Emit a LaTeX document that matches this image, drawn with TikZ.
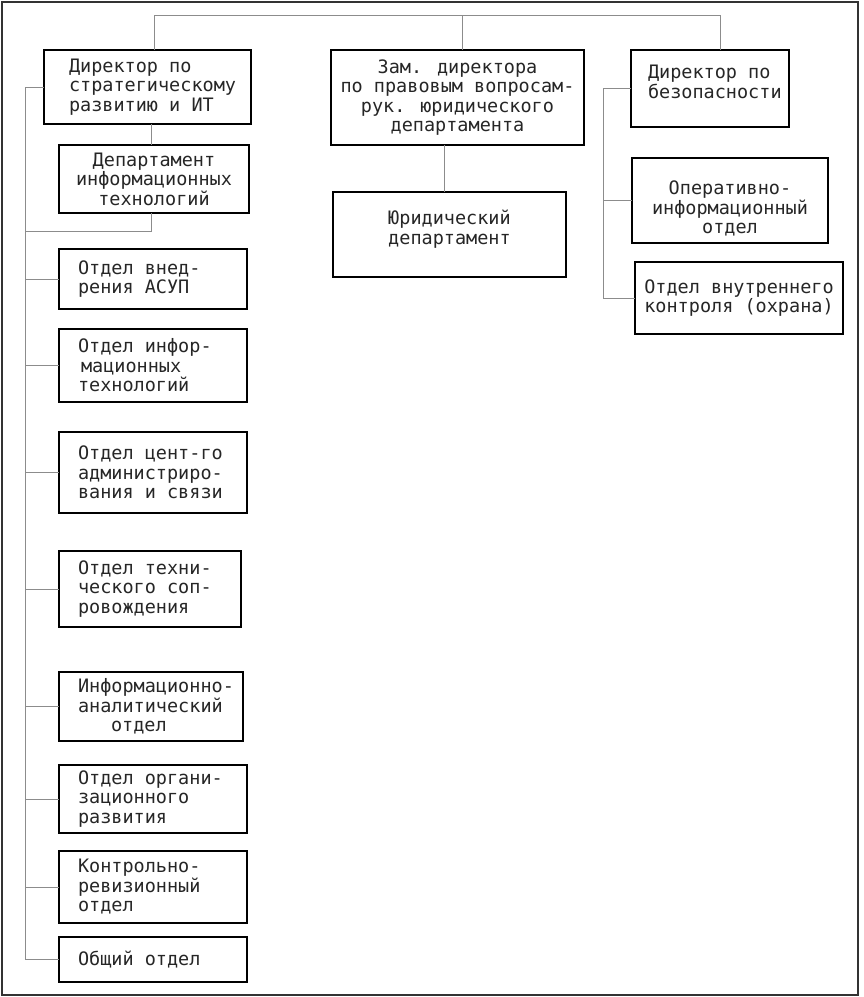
\documentclass[tikz,border=0pt]{standalone}
\usepackage{fontspec}
\newfontfamily\gost{DejaVu Sans Mono}
\hyphenpenalty=10000
\exhyphenpenalty=10000
\begin{document}
\begin{tikzpicture}[x=1pt,y=-1pt,
  box/.style={draw=black, line width=1.5pt, inner sep=0pt, outer sep=0pt,
    font=\gost\fontsize{18.5}{19.5}\selectfont, text=black!85},
  lbox/.style={box, align=flush left, inner xsep=19pt, text width=#1},
  conn/.style={draw=black!45, line width=0.9pt},
  frame/.style={draw=black!80, line width=2pt}]
\useasboundingbox (0,0) rectangle (864,997);
\draw[frame] (2,2) rectangle (858,995);

% left branch
\node[box, align=flush left, inner xsep=25pt, text width=157pt, minimum width=207pt, minimum height=74pt] (dsr) at (147.5,87) {Директор по\\стратегическому\\развитию и ИТ};
\node[box, align=center, minimum width=190pt, minimum height=68pt] (dit) at (154,179) {Департамент\\информационных\\технологий};
\node[lbox=150pt, minimum width=188pt, minimum height=60pt] (asup) at (153,279) {Отдел внед-\\рения АСУП};
\node[lbox=150pt, minimum width=188pt, minimum height=73pt] (oit) at (153,365.5) {Отдел инфор-\\\hspace*{3pt}мационных\\технологий};
\node[lbox=150pt, minimum width=188pt, minimum height=81pt] (ocas) at (153,472.5) {Отдел цент-го\\администриро-\\вания и связи};
\node[lbox=144pt, minimum width=182pt, minimum height=76pt] (ots) at (150,589) {Отдел техни-\\ческого соп-\\ровождения};
\node[lbox=146pt, minimum width=184pt, minimum height=69pt] (iao) at (151,706.5) {Информационно-\\аналитический\\\hspace*{33pt}отдел};
\node[lbox=150pt, minimum width=188pt, minimum height=68pt] (oor) at (153,799) {Отдел органи-\\зационного\\развития};
\node[lbox=150pt, minimum width=188pt, minimum height=72pt] (kro) at (153,887) {Контрольно-\\ревизионный\\отдел};
\node[lbox=150pt, minimum width=188pt, minimum height=45pt] (oo) at (153,959.5) {Общий отдел};

% middle branch
\node[box, align=center, minimum width=253pt, minimum height=95pt] (zam) at (457.5,97.5) {Зам. директора\\по правовым вопросам-\\рук. юридического\\департамента};
\node[box, align=left, minimum width=233pt, minimum height=85pt, text depth=15pt] (yur) at (449.5,234.5) {Юридический\\департамент};

% right branch
\node[box, align=flush left, inner xsep=17pt, text width=124pt, minimum width=158pt, minimum height=77pt] (dbez) at (710,88.5) {Директор по\\безопасности\\[-6pt]\rule{0pt}{0pt}};
\node[box, align=center, minimum width=196pt, minimum height=85pt] (oio) at (730,200.5) {\rule{0pt}{8pt}\\[3pt]Оперативно-\\информационный\\отдел};
\node[box, align=left, minimum width=208pt, minimum height=72pt] (ovk) at (739,298) {Отдел внутреннего\\контроля (охрана)};

% connector coordinates
\coordinate (topL) at (154,15);
\coordinate (topM) at (462,15);
\coordinate (topR) at (720,15);
\coordinate (dsrx) at (151,0);
\coordinate (lbus) at (25,231);
\coordinate (zamx) at (444,0);
\coordinate (rbus) at (603,0);

% top bus
\draw[conn] (dsr.north -| topL) -- (topL) -- (topR) -- (dbez.north -| topR);
\draw[conn] (topM) -- (zam.north -| topM);

% left branch connectors
\draw[conn] (dsr.south -| dsrx) -- (dit.north -| dsrx);
\draw[conn] (dit.south -| dsrx) |- (lbus);
\draw[conn] (dsr.west) -| (oo.west -| lbus) -- (oo.west);
\foreach \n in {asup,oit,ocas,ots,iao,oor,kro}
  \draw[conn] (\n.west -| lbus) -- (\n.west);

% middle connector
\draw[conn] (zam.south -| zamx) -- (yur.north -| zamx);

% right connectors
\draw[conn] (dbez.west) -| (ovk.west -| rbus) -- (ovk.west);
\draw[conn] (oio.west -| rbus) -- (oio.west);
\end{tikzpicture}
\end{document}
